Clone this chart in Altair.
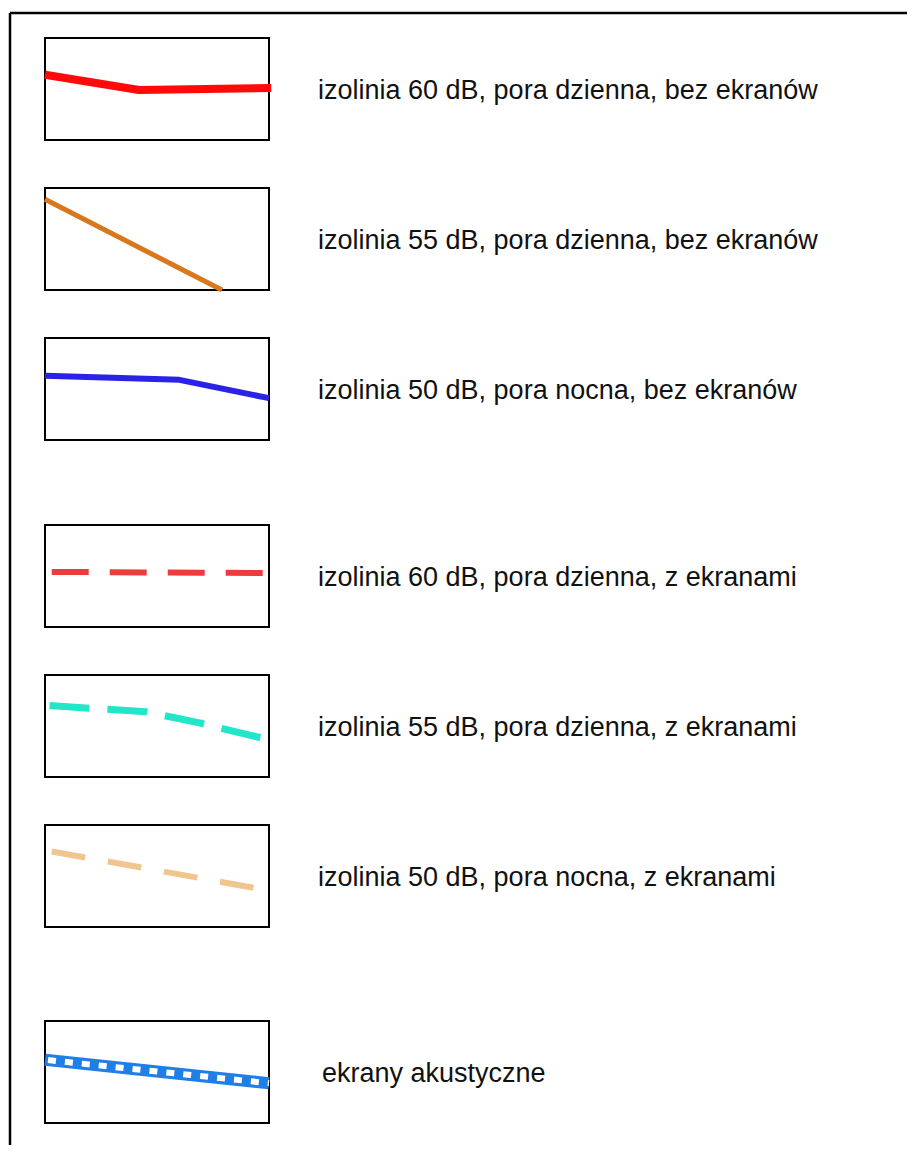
import altair as alt
import pandas as pd

# ---- legend content ----
labels = [
    "izolinia 60 dB, pora dzienna, bez ekranów",
    "izolinia 55 dB, pora dzienna, bez ekranów",
    "izolinia 50 dB, pora nocna, bez ekranów",
    "izolinia 60 dB, pora dzienna, z ekranami",
    "izolinia 55 dB, pora dzienna, z ekranami",
    "izolinia 50 dB, pora nocna, z ekranami",
    "ekrany akustyczne",
]
# sample line of each legend entry, relative to its box (0..1 across, 0..1 down)
shape_x = [
    [0.0, 0.42, 1.01],
    [0.0, 0.79],
    [0.0, 0.60, 1.0],
    [0.03, 0.98],
    [0.02, 0.45, 0.69, 0.97],
    [0.03, 0.97],
    [0.0, 1.0],
]
shape_y = [
    [0.36, 0.51, 0.49],
    [0.11, 1.0],
    [0.37, 0.41, 0.59],
    [0.46, 0.47],
    [0.30, 0.36, 0.47, 0.62],
    [0.26, 0.63],
    [0.38, 0.61],
]

# ---- layout (page pixels) ----
box_top = [38, 188, 338, 525, 675, 825, 1021]
box_left, box_w, box_h = 45, 224, 102
text_x = [318, 318, 318, 318, 318, 318, 322]

styles = [
    dict(color="#ff0a0a", strokeWidth=8),
    dict(color="#d8771c", strokeWidth=5),
    dict(color="#2a22e6", strokeWidth=6),
    dict(color="#ec3c3c", strokeWidth=6, strokeDash=[37, 21]),
    dict(color="#22e6c8", strokeWidth=7, strokeDash=[40, 18]),
    dict(color="#f0c690", strokeWidth=6, strokeDash=[34, 23]),
    dict(color="#1f7fe6", strokeWidth=12),
]

boxes = pd.DataFrame({
    "x": [box_left] * len(box_top),
    "x2": [box_left + box_w] * len(box_top),
    "y": box_top,
    "y2": [t + box_h for t in box_top],
})
texts = pd.DataFrame({
    "x": text_x,
    "y": [t + box_h / 2 + 2 for t in box_top],
    "label": labels,
})
rows = []
for i, (xs, ys) in enumerate(zip(shape_x, shape_y)):
    for k, (u, v) in enumerate(zip(xs, ys)):
        rows.append({"row": i, "seq": k,
                     "x": box_left + u * box_w,
                     "y": box_top[i] + v * box_h})
lines = pd.DataFrame(rows)

frame = pd.DataFrame({"x": [10, 10], "y": [13, 13], "x2": [915, 10], "y2": [13, 1153]})

W, H = 899, 1137
xs = alt.Scale(domain=[8, 8 + W], nice=False, zero=False)
ys = alt.Scale(domain=[8, 8 + H], nice=False, zero=False, reverse=True)
X = lambda f: alt.X(f, scale=xs, axis=None)
Y = lambda f: alt.Y(f, scale=ys, axis=None)

layers = []
layers.append(
    alt.Chart(frame).mark_rule(color="black", strokeWidth=2.5).encode(
        x=X("x:Q"), y=Y("y:Q"), x2="x2:Q", y2="y2:Q")
)
layers.append(
    alt.Chart(boxes).mark_rect(fill="white", stroke="black", strokeWidth=2).encode(
        x=X("x:Q"), x2="x2:Q", y=Y("y:Q"), y2="y2:Q")
)
for i, st in enumerate(styles):
    layers.append(
        alt.Chart(lines[lines.row == i]).mark_line(strokeCap="butt", strokeJoin="round", **st).encode(
            x=X("x:Q"), y=Y("y:Q"), order="seq:O")
    )
# white squares inside the acoustic screens symbol
layers.append(
    alt.Chart(lines[lines.row == 6]).mark_line(color="white", strokeWidth=6, strokeDash=[8, 9],
                                               strokeDashOffset=-3, strokeCap="butt").encode(
        x=X("x:Q"), y=Y("y:Q"), order="seq:O")
)
layers.append(
    alt.Chart(texts).mark_text(align="left", baseline="middle", font="Liberation Sans",
                               fontSize=27, color="#111111").encode(
        x=X("x:Q"), y=Y("y:Q"), text="label:N")
)

chart = alt.layer(*layers).properties(
    width=W, height=H, padding=0, autosize=alt.AutoSizeParams(type="none"), background="white"
).configure_view(stroke=None)

chart.save("out.html", embed_options={"renderer": "svg", "actions": False})
